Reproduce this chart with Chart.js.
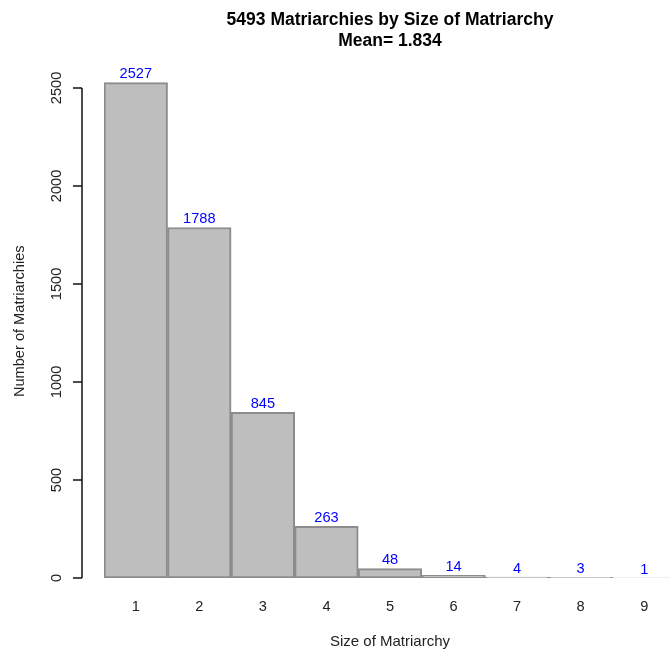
<!DOCTYPE html>
<html>
<head>
<meta charset="utf-8">
<script src="https://cdn.jsdelivr.net/npm/chart.js@4/dist/chart.umd.min.js"></script>
<style>
  html, body { margin: 0; padding: 0; background: #fff; overflow: hidden; width: 670px; height: 656px; }
  #wrap { width: 676px; height: 656px; }
</style>
</head>
<body>
<div id="wrap"><canvas id="c" width="676" height="656"></canvas></div>
<script>
const categories = ['1', '2', '3', '4', '5', '6', '7', '8', '9'];
const counts = [2527, 1788, 845, 263, 48, 14, 4, 3, 1];
const yTickValues = [0, 500, 1000, 1500, 2000, 2500];
const titleLines = ['5493 Matriarchies by Size of Matriarchy', 'Mean= 1.834'];
const xTitle = 'Size of Matriarchy';
const yTitle = 'Number of Matriarchies';

const FONT = '"Liberation Sans", Arial, Helvetica, sans-serif';
const TEXT_SIZE = 14.6;

const rAxisPlugin = {
  id: 'rAxis',
  afterDraw(chart) {
    const ctx = chart.ctx;
    const y = chart.scales.y;
    const area = chart.chartArea;
    const ax = area.left - 22;
    const y0 = y.getPixelForValue(yTickValues[0]);
    const y1 = y.getPixelForValue(yTickValues[yTickValues.length - 1]);
    ctx.save();
    ctx.strokeStyle = '#111';
    ctx.lineWidth = 1.5;
    ctx.beginPath();
    ctx.moveTo(ax, y0);
    ctx.lineTo(ax, y1);
    yTickValues.forEach(v => {
      const py = y.getPixelForValue(v);
      ctx.moveTo(ax, py);
      ctx.lineTo(ax - 9, py);
    });
    ctx.stroke();
    ctx.fillStyle = '#222';
    ctx.font = TEXT_SIZE + 'px ' + FONT;
    ctx.textAlign = 'center';
    ctx.textBaseline = 'middle';
    yTickValues.forEach(v => {
      const py = y.getPixelForValue(v);
      ctx.save();
      ctx.translate(ax - 25, py);
      ctx.rotate(-Math.PI / 2);
      ctx.fillText(String(v), 0, 0);
      ctx.restore();
    });
    ctx.save();
    ctx.translate(20, (area.top + area.bottom) / 2 + 2);
    ctx.rotate(-Math.PI / 2);
    ctx.fillText(yTitle, 0, 0);
    ctx.restore();
    ctx.restore();
  }
};

const valueLabelPlugin = {
  id: 'valueLabels',
  afterDatasetsDraw(chart) {
    const ctx = chart.ctx;
    const meta = chart.getDatasetMeta(0);
    ctx.save();
    ctx.fillStyle = '#0000ff';
    ctx.font = TEXT_SIZE + 'px ' + FONT;
    ctx.textAlign = 'center';
    ctx.textBaseline = 'bottom';
    meta.data.forEach((bar, i) => {
      ctx.fillText(String(counts[i]), bar.x, bar.y - 1);
    });
    ctx.restore();
  }
};

new Chart(document.getElementById('c'), {
  type: 'bar',
  data: {
    labels: categories,
    datasets: [{
      data: counts,
      backgroundColor: '#bebebe',
      borderColor: '#8c8c8c',
      borderWidth: 2,
      borderSkipped: false,
      barPercentage: 1,
      categoryPercentage: 1
    }]
  },
  options: {
    responsive: false,
    animation: false,
    devicePixelRatio: 1,
    layout: { padding: { left: 104, right: 0, top: 0, bottom: 3 } },
    plugins: {
      legend: { display: false },
      tooltip: { enabled: false },
      title: {
        display: true,
        text: titleLines,
        color: '#000',
        font: { family: FONT, size: 17.5, weight: 'bold', lineHeight: 1.2 },
        padding: { top: 10, bottom: 8.5 }
      }
    },
    scales: {
      y: { display: false, min: 0, max: 2640 },
      x: {
        grid: { display: false, drawTicks: false },
        border: { display: false },
        ticks: { color: '#222', font: { family: FONT, size: TEXT_SIZE, lineHeight: 1.2 }, padding: 20 },
        title: { display: true, text: xTitle, color: '#222', font: { family: FONT, size: 15, lineHeight: 1.2 }, padding: { top: -2.5, bottom: 2 } }
      }
    }
  },
  plugins: [rAxisPlugin, valueLabelPlugin]
});
</script>
</body>
</html>
